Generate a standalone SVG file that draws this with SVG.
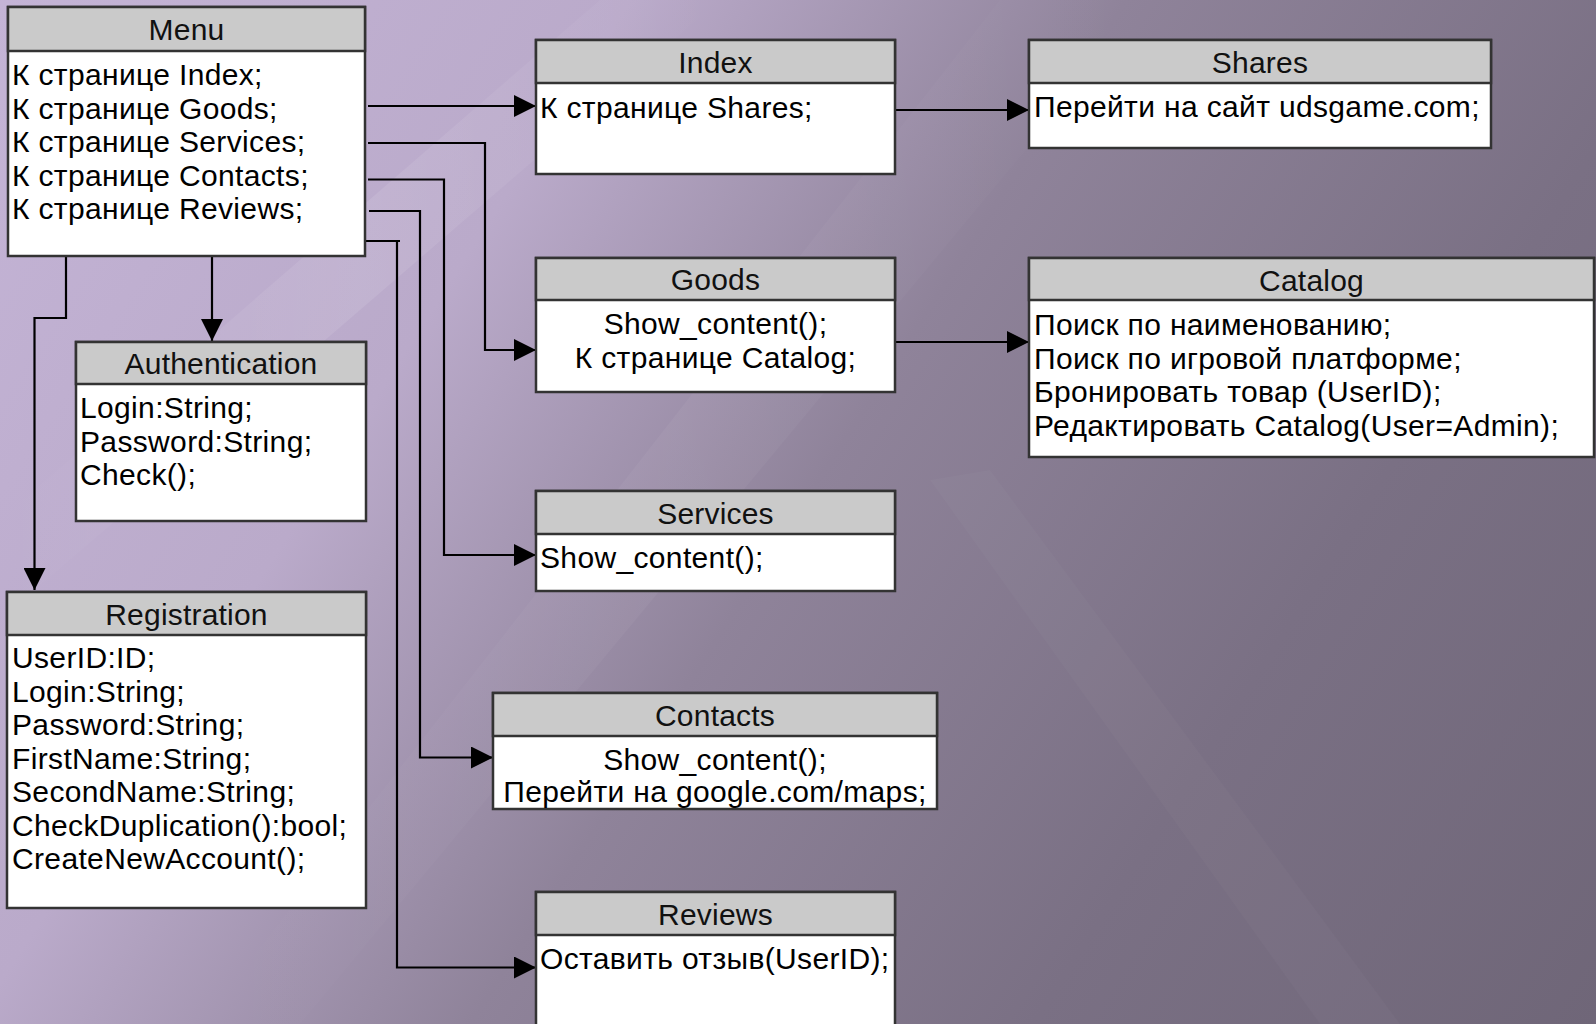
<svg xmlns="http://www.w3.org/2000/svg" width="1596" height="1024" viewBox="0 0 1596 1024">
  <defs>
    <linearGradient id="bg" x1="0" y1="0" x2="1596" y2="1024" gradientUnits="userSpaceOnUse">
      <stop offset="0" stop-color="#c4b4d6"/>
      <stop offset="0.28" stop-color="#baaaca"/>
      <stop offset="0.5" stop-color="#8f839a"/>
      <stop offset="0.75" stop-color="#7a7084"/>
      <stop offset="1" stop-color="#6f6678"/>
    </linearGradient>
    <linearGradient id="streak" x1="0" y1="0" x2="1" y2="0">
      <stop offset="0" stop-color="#ffffff" stop-opacity="0"/>
      <stop offset="0.5" stop-color="#ffffff" stop-opacity="0.12"/>
      <stop offset="1" stop-color="#ffffff" stop-opacity="0"/>
    </linearGradient>
    <marker id="arrow" viewBox="0 0 22 22" refX="22" refY="11" markerWidth="22" markerHeight="22" markerUnits="userSpaceOnUse" orient="auto">
      <path d="M0,0 L22,11 L0,22 z" fill="#000"/>
    </marker>
    <style>
      .box { fill: #ffffff; stroke: #333333; stroke-width: 2.5; }
      .head { fill: #cacaca; stroke: #333333; stroke-width: 2.5; }
      .title { font-family: "Liberation Sans", Arial, sans-serif; font-size: 30px; letter-spacing: 0.2px; fill: #111; text-anchor: middle; }
      .txt { font-family: "Liberation Sans", Arial, sans-serif; font-size: 30px; letter-spacing: 0.35px; fill: #000; }
      .ctr { text-anchor: middle; }
      .conn { fill: none; stroke: #000; stroke-width: 2.2; }
    </style>
  </defs>

  <rect x="0" y="0" width="1596" height="1024" fill="url(#bg)"/>
  <polygon points="0,620 0,520 600,0 720,0" fill="url(#streak)" opacity="0.8"/>
  <polygon points="300,1024 200,1024 1000,0 1150,0" fill="url(#streak)" opacity="0.35"/>
  <polygon points="930,480 990,470 1400,1024 1320,1024" fill="#ffffff" opacity="0.025"/>

  <g id="connectors">
    <path class="conn" d="M368 106 H536" marker-end="url(#arrow)"/>
    <path class="conn" d="M368 143 H485 V350 H536" marker-end="url(#arrow)"/>
    <path class="conn" d="M368 179.5 H444 V555 H536" marker-end="url(#arrow)"/>
    <path class="conn" d="M369 211 H420 V757.5 H493" marker-end="url(#arrow)"/>
    <path class="conn" d="M365 241 H400 M397 241 V967.5 H536" marker-end="url(#arrow)"/>
    <path class="conn" d="M895 110 H1029" marker-end="url(#arrow)"/>
    <path class="conn" d="M895 342 H1029" marker-end="url(#arrow)"/>
    <path class="conn" d="M212 256 V341" marker-end="url(#arrow)"/>
    <path class="conn" d="M66 256 V318 H34.5 V590" marker-end="url(#arrow)"/>
  </g>

  <g id="menu">
    <rect class="box" x="8" y="7" width="357" height="249"/>
    <rect class="head" x="8" y="7" width="357" height="44"/>
    <text class="title" x="186.5" y="39.5">Menu</text>
    <text class="txt" x="12" y="85">К странице Index;</text>
    <text class="txt" x="12" y="118.5">К странице Goods;</text>
    <text class="txt" x="12" y="152">К странице Services;</text>
    <text class="txt" x="12" y="185.5">К странице Contacts;</text>
    <text class="txt" x="12" y="219">К странице Reviews;</text>
  </g>

  <g id="index">
    <rect class="box" x="536" y="40" width="359" height="134"/>
    <rect class="head" x="536" y="40" width="359" height="43"/>
    <text class="title" x="715.5" y="73">Index</text>
    <text class="txt" x="540" y="118">К странице Shares;</text>
  </g>

  <g id="shares">
    <rect class="box" x="1029" y="40" width="462" height="108"/>
    <rect class="head" x="1029" y="40" width="462" height="43"/>
    <text class="title" x="1260" y="73">Shares</text>
    <text class="txt" x="1034" y="117">Перейти на сайт udsgame.com;</text>
  </g>

  <g id="goods">
    <rect class="box" x="536" y="258" width="359" height="134"/>
    <rect class="head" x="536" y="258" width="359" height="42"/>
    <text class="title" x="715.5" y="290">Goods</text>
    <text class="txt ctr" x="715.5" y="334">Show_content();</text>
    <text class="txt ctr" x="715.5" y="367.5">К странице Catalog;</text>
  </g>

  <g id="catalog">
    <rect class="box" x="1029" y="258" width="565" height="199"/>
    <rect class="head" x="1029" y="258" width="565" height="42"/>
    <text class="title" x="1311.5" y="290.5">Catalog</text>
    <text class="txt" x="1034" y="335">Поиск по наименованию;</text>
    <text class="txt" x="1034" y="368.5">Поиск по игровой платформе;</text>
    <text class="txt" x="1034" y="402">Бронировать товар (UserID);</text>
    <text class="txt" x="1034" y="435.5">Редактировать Catalog(User=Admin);</text>
  </g>

  <g id="authentication">
    <rect class="box" x="76" y="342" width="290" height="179"/>
    <rect class="head" x="76" y="342" width="290" height="42"/>
    <text class="title" x="221" y="374">Authentication</text>
    <text class="txt" x="80" y="418">Login:String;</text>
    <text class="txt" x="80" y="451.5">Password:String;</text>
    <text class="txt" x="80" y="485">Check();</text>
  </g>

  <g id="registration">
    <rect class="box" x="7" y="592" width="359" height="316"/>
    <rect class="head" x="7" y="592" width="359" height="43"/>
    <text class="title" x="186.5" y="624.5">Registration</text>
    <text class="txt" x="12" y="668">UserID:ID;</text>
    <text class="txt" x="12" y="701.5">Login:String;</text>
    <text class="txt" x="12" y="735">Password:String;</text>
    <text class="txt" x="12" y="768.5">FirstName:String;</text>
    <text class="txt" x="12" y="802">SecondName:String;</text>
    <text class="txt" x="12" y="835.5">CheckDuplication():bool;</text>
    <text class="txt" x="12" y="869">CreateNewAccount();</text>
  </g>

  <g id="services">
    <rect class="box" x="536" y="491" width="359" height="100"/>
    <rect class="head" x="536" y="491" width="359" height="43"/>
    <text class="title" x="715.5" y="523.5">Services</text>
    <text class="txt" x="540" y="568">Show_content();</text>
  </g>

  <g id="contacts">
    <rect class="box" x="493" y="693" width="444" height="116"/>
    <rect class="head" x="493" y="693" width="444" height="43"/>
    <text class="title" x="715" y="725.5">Contacts</text>
    <text class="txt ctr" x="715" y="769.5">Show_content();</text>
    <text class="txt ctr" x="715" y="802">Перейти на google.com/maps;</text>
  </g>

  <g id="reviews">
    <rect class="box" x="536" y="892" width="359" height="160"/>
    <rect class="head" x="536" y="892" width="359" height="43"/>
    <text class="title" x="715.5" y="924.5">Reviews</text>
    <text class="txt" x="540" y="969">Оставить отзыв(UserID);</text>
  </g>
</svg>
